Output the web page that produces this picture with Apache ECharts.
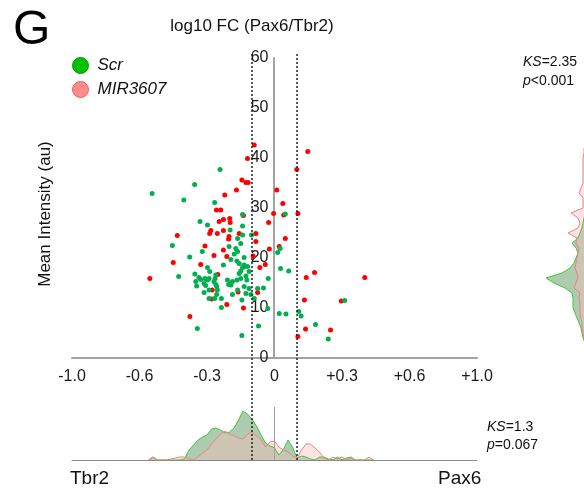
<!DOCTYPE html>
<html><head><meta charset="utf-8">
<script src="https://cdn.jsdelivr.net/npm/echarts@6/dist/echarts.min.js"></script>
<style>html,body{margin:0;padding:0;background:#fff}#c{width:584px;height:494px}</style>
</head><body><div id="c"></div>
<script>
// ---- data ----
const xTickLabels = ['-1.0', '-0.6', '-0.3', '0', '+0.3', '+0.6', '+1.0'];

// Scr (green) points: log10 FC, mean intensity
const scrX = [-0.544,-0.403,-0.355,-0.242,-0.266,-0.142,-0.331,-0.298,-0.197,-0.454,-0.202,-0.164,-0.142,-0.102,-0.150,-0.172,-0.321,-0.377,-0.179,-0.164,-0.194,-0.135,-0.227,-0.167,-0.157,-0.142,-0.150,-0.298,-0.288,-0.426,-0.354,-0.336,-0.328,-0.309,-0.298,-0.291,-0.261,-0.264,-0.269,-0.350,-0.346,-0.313,-0.306,-0.261,-0.257,-0.209,-0.204,-0.194,-0.187,-0.157,-0.167,-0.150,-0.127,-0.123,-0.113,-0.135,-0.120,-0.313,-0.291,-0.254,-0.257,-0.291,-0.266,-0.236,-0.187,-0.164,-0.135,-0.127,-0.105,-0.075,-0.049,-0.145,-0.090,-0.236,-0.113,-0.343,-0.145,-0.071,-0.030,0.014,0.025,0.027,0.063,-0.028,0.021,0.051,0.108,0.118,0.182,0.239,0.312,0.048,-0.142];
const scrY = [32.9,31.6,34.7,37.7,31.1,28.7,27.3,26.6,25.6,22.5,22.3,23.9,24.6,24.6,22.9,21.9,21.3,20.2,20.8,21.3,19.7,20.1,18.6,19.4,18.9,18.1,17.4,18.1,17.3,16.3,16.8,16.1,15.7,15.9,15.6,15.9,16.6,15.9,15.3,15.3,14.4,14.9,14.5,14.7,14.3,15.6,14.7,14.6,15.3,16.9,15.6,15.9,16.4,15.6,17.3,18.6,18.3,13.1,13.6,13.6,12.7,11.9,11.9,11.9,12.7,13.6,14.3,12.9,12.7,13.9,14.0,11.6,11.9,10.1,13.9,5.9,4.5,6.4,9.9,21.1,21.9,17.9,17.4,15.9,8.9,8.8,9.3,8.4,6.7,3.8,11.5,28.8,26.4];

// MIR3607 (red) points
const mirX = [-0.090,-0.120,-0.145,-0.127,-0.117,-0.169,-0.221,-0.258,-0.239,-0.227,-0.199,-0.246,-0.197,-0.283,-0.288,-0.254,-0.227,-0.202,-0.204,-0.157,-0.432,-0.309,-0.083,-0.083,-0.138,-0.269,-0.227,-0.212,-0.095,-0.450,-0.554,-0.328,-0.252,-0.138,-0.277,-0.279,-0.194,-0.162,-0.212,-0.138,-0.376,-0.075,-0.065,-0.023,0.021,-0.041,0.148,0.099,0.010,0.037,-0.004,0.041,0.104,-0.026,0.048,0.141,0.178,0.401,0.133,0.297,0.138,0.249,0.104];
const mirY = [42.6,39.9,35.6,35.1,35.1,33.6,32.6,29.6,29.6,27.7,27.9,27.3,27.1,25.5,24.9,24.9,25.5,24.3,23.8,24.9,24.5,22.4,24.9,23.3,28.5,20.5,21.6,20.3,20.4,19.1,15.9,18.7,16.7,18.2,13.6,11.8,14.9,13.2,10.7,10.0,8.3,13.1,18.1,21.8,22.3,18.7,41.3,37.7,33.6,30.9,28.9,28.6,28.9,27.1,23.9,16.1,17.1,16.1,11.6,11.4,5.8,5.6,4.3];

// bottom distribution (log10 FC)
const histX = [-0.56,-0.54,-0.52,-0.50,-0.48,-0.46,-0.44,-0.42,-0.40,-0.38,-0.36,-0.34,-0.32,-0.30,-0.28,-0.26,-0.24,-0.22,-0.20,-0.18,-0.16,-0.14,-0.12,-0.10,-0.08,-0.06,-0.04,-0.02,0,0.02,0.04,0.06,0.08,0.10,0.12,0.14,0.16,0.18,0.20,0.22,0.24,0.26,0.28,0.30,0.32,0.34,0.36,0.38,0.40,0.42,0.44];
const scrHistFC = [0,3,0,0,0,0,0,0,1,10,15,20,23,25,31,32,30,27,28,32,40,49,46,41,34,25,17,14,12,5,11,20,13,2,4,3,1,0,3,3,1,0,3,0,2,3,0,0,0,0,0];
const mirHistFC = [0,3,0,0,0,1,2,3,3,1,0,3,7,10,16,21,26,29,26,24,22,21,26,28,24,20,13,18,19,13,10,8,4,2,10,16,16,12,8,2,0,3,1,3,0,2,0,0,0,3,0];

// right distribution (mean intensity)
const intensityBins = ['0','1','2','3','4','5','6','7','8','9','10','11','12','13','14','15','16','17','18','19','20','21','22','23','24','25','26','27','28','29','30','31','32','33','34','35','36','37','38','39','40','41','42','43','44','45','46','47','48','49','50','51','52','53','54','55','56','57','58','59','60'];
const scrHistInt = [0,3,5,7,9,10,11,13,15,17,19,19,19,20,27,38,46,30,22,18,16,14,16,20,14,12,10,9,8,7,6,5,4,3,2,1,0,0,0,0,0,0,0,0,0];
const mirHistInt = [0,1,3,6,8,9,10,10,11,12,12,12,13,12,18,16,14,15,17,16,15,14,13,16,15,24,14,12,14,21,9,9,9,13,11,9,9,9,9,9,9,8,8,4,0];

const refLines = [-0.1, 0.1];

// ---- chart ----
const FONT = '"Liberation Sans", Arial, sans-serif';
const zip = (a, b) => a.map((v, i) => [v, b[i]]);
const chart = echarts.init(document.getElementById('c'));
const option = {
  animation: false,
  textStyle: { fontFamily: FONT },
  grid: [
    { left: 72, top: 58, width: 405, height: 300 },
    { left: 72, top: 407, width: 405, height: 53 },
    { left: 532, top: 58, width: 52, height: 300 },
    { left: 72, top: 52, width: 405, height: 408 }
  ],
  legend: {
    left: 72, top: 57, padding: 0, orient: 'vertical', itemWidth: 16, itemHeight: 16, itemGap: 7,
    icon: 'circle', selectedMode: false,
    textStyle: { fontSize: 17, fontStyle: 'italic', color: '#111', padding: [0, 0, 0, 4] },
    data: [
      { name: 'Scr', itemStyle: { color: '#00c000', borderColor: '#009a00', borderWidth: 1 } },
      { name: 'MIR3607', itemStyle: { color: '#ff8c8c', borderColor: '#f05a5a', borderWidth: 1 } }
    ]
  },
  xAxis: [
    { gridIndex: 0, type: 'value', min: -0.9, max: 0.9, interval: 0.3,
      axisLine: { lineStyle: { color: '#a3a3a3', width: 2 } }, axisTick: { show: false }, splitLine: { show: false },
      axisLabel: { fontSize: 16, color: '#1a1a1a', margin: 11,
        formatter: v => xTickLabels[Math.round((v + 0.9) / 0.3)] } },
    { gridIndex: 1, type: 'value', min: -0.9, max: 0.9,
      axisLine: { lineStyle: { color: '#8a8a8a', width: 1 } }, axisTick: { show: false },
      axisLabel: { show: false }, splitLine: { show: false } },
    { gridIndex: 2, type: 'value', min: 8, max: 60, inverse: true, show: false },
    { gridIndex: 3, type: 'value', min: -0.9, max: 0.9, show: false }
  ],
  yAxis: [
    { gridIndex: 0, type: 'value', min: 0, max: 60, interval: 10, position: 'left', offset: -201.5,
      axisLine: { show: true, onZero: false, lineStyle: { color: '#a3a3a3', width: 2 } },
      axisTick: { show: false }, splitLine: { show: false },
      axisLabel: { fontSize: 16, color: '#1a1a1a', margin: 5 } },
    { gridIndex: 1, type: 'value', min: 0, max: 53, show: false },
    { gridIndex: 2, type: 'category', data: intensityBins, boundaryGap: false, show: false },
    { gridIndex: 3, type: 'value', min: 0, max: 1, show: false }
  ],
  series: [
    { name: 'MIR3607', type: 'scatter', xAxisIndex: 0, yAxisIndex: 0, symbolSize: 5,
      itemStyle: { color: '#ff0000', opacity: 1 }, data: zip(mirX, mirY), z: 3 },
    { name: 'Scr', type: 'scatter', xAxisIndex: 0, yAxisIndex: 0, symbolSize: 5,
      itemStyle: { color: '#00b050', opacity: 1 }, data: zip(scrX, scrY), z: 4 },
    { name: 'Scr FC dist', type: 'line', xAxisIndex: 1, yAxisIndex: 1, symbol: 'none',
      lineStyle: { color: '#3cc83c', width: 1 }, areaStyle: { color: 'rgba(27,107,27,0.5)' },
      data: zip(histX, scrHistFC), z: 2 },
    { name: 'MIR FC dist', type: 'line', xAxisIndex: 1, yAxisIndex: 1, symbol: 'none',
      lineStyle: { color: '#f08080', width: 1 }, areaStyle: { color: 'rgba(250,190,190,0.58)' },
      data: zip(histX, mirHistFC), z: 2,
      markLine: { silent: true, symbol: ['none', 'none'], label: { show: false },
        lineStyle: { color: '#a0a0a0', width: 1, type: 'solid' }, data: [{ xAxis: 0 }] } },
    { name: 'Scr int dist', type: 'line', xAxisIndex: 2, yAxisIndex: 2, symbol: 'none', clip: false,
      lineStyle: { color: '#3cc83c', width: 1 }, areaStyle: { color: 'rgba(27,107,27,0.5)', origin: 'start' },
      data: scrHistInt, z: 2 },
    { name: 'MIR int dist', type: 'line', xAxisIndex: 2, yAxisIndex: 2, symbol: 'none', clip: false,
      lineStyle: { color: '#f08080', width: 1 }, areaStyle: { color: 'rgba(250,190,190,0.58)', origin: 'start' },
      data: mirHistInt, z: 2 },
    { name: 'ref', type: 'line', xAxisIndex: 3, yAxisIndex: 3, data: [], z: 5,
      markLine: { silent: true, symbol: ['none', 'none'], label: { show: false },
        lineStyle: { color: '#222', width: 1.5, type: [2, 2] },
        data: refLines.map(v => ({ xAxis: v })) } }
  ],
  graphic: [
    { type: 'text', style: { x: 13, y: 31, text: 'G', font: '48px ' + FONT, fill: '#000', textVerticalAlign: 'middle' } },
    { type: 'text', style: { x: 252, y: 26, text: 'log10 FC (Pax6/Tbr2)', font: '17px ' + FONT, fill: '#111', textAlign: 'center', textVerticalAlign: 'middle' } },
    { type: 'text', rotation: Math.PI / 2, x: 45, y: 214,
      style: { x: 0, y: 0, text: 'Mean Intensity (au)', font: '17px ' + FONT, fill: '#111', textAlign: 'center', textVerticalAlign: 'middle' } },
    { type: 'text', style: { x: 523, y: 72, text: '{i|KS}=2.35\n{i|p}<0.001', font: '14px ' + FONT, fill: '#111', lineHeight: 19, textVerticalAlign: 'middle',
      rich: { i: { fontStyle: 'italic', fontSize: 14, fontFamily: FONT } } } },
    { type: 'text', style: { x: 487, y: 436, text: '{i|KS}=1.3\n{i|p}=0.067', font: '14px ' + FONT, fill: '#111', lineHeight: 18, textVerticalAlign: 'middle',
      rich: { i: { fontStyle: 'italic', fontSize: 14, fontFamily: FONT } } } },
    { type: 'text', style: { x: 70, y: 479, text: 'Tbr2', font: '19px ' + FONT, fill: '#111', textVerticalAlign: 'middle' } },
    { type: 'text', style: { x: 438, y: 479, text: 'Pax6', font: '19px ' + FONT, fill: '#111', textVerticalAlign: 'middle' } }
  ]
};
chart.setOption(option);
</script>
</body></html>
